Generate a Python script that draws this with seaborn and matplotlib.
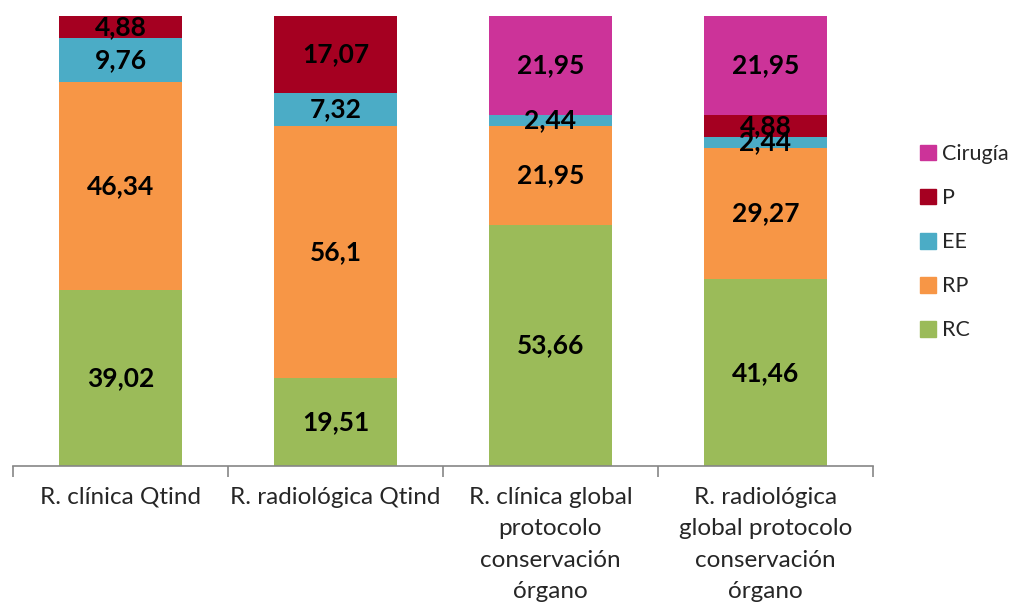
import matplotlib
matplotlib.use("Agg")
import matplotlib.pyplot as plt
import seaborn as sns
import numpy as np
import pandas as pd
from matplotlib.patches import Patch

# data
categories = ["R. clínica Qtind", "R. radiológica Qtind",
              "R. clínica global\nprotocolo\nconservación\nórgano",
              "R. radiológica\nglobal protocolo\nconservación\nórgano"]
series = ["RC", "RP", "EE", "P", "Cirugía"]
rc = [39.02, 19.51, 53.66, 41.46]
rp = [46.34, 56.1, 21.95, 29.27]
ee = [9.76, 7.32, 2.44, 2.44]
p = [4.88, 17.07, 0, 4.88]
cirugia = [0, 0, 21.95, 21.95]
colors = ["#9BBB59", "#F79646", "#4BACC6", "#A50021", "#CC3399"]

sns.set_theme(style="white")
plt.rcParams['font.family'] = ['Lato', 'DejaVu Sans']

values = np.array([rc, rp, ee, p, cirugia])
cum = values.cumsum(axis=0)

fig = plt.figure(figsize=(10.15, 6.1), dpi=100)
ax = fig.add_axes([13 / 1015, 144 / 610, 860 / 1015, 450 / 610])

# stacked bars: draw cumulative totals from top down
for i in range(len(series) - 1, -1, -1):
    df = pd.DataFrame({"cat": categories, "val": cum[i]})
    sns.barplot(data=df, x="cat", y="val", color=colors[i], width=0.57,
                saturation=1, ax=ax, edgecolor="none")

# labels in the middle of each segment
for i in range(len(series)):
    for j in range(len(categories)):
        v = values[i, j]
        if v <= 0:
            continue
        y = cum[i, j] - v / 2
        ax.text(j, y, f"{v:g}".replace(".", ","), ha="center", va="center",
                fontsize=19, fontweight="bold", color="black")

ax.set_ylim(0, 100)
ax.set_xlim(-0.5, 3.5)
ax.set_xlabel("")
ax.set_ylabel("")
ax.set_yticks([])
for s in ["top", "left", "right"]:
    ax.spines[s].set_visible(False)
ax.spines["bottom"].set_color("#868686")
ax.spines["bottom"].set_linewidth(1.2)

ax.set_xticks(range(len(categories)))
ax.set_xticklabels(categories, fontsize=17.5, linespacing=1.62)
ax.tick_params(axis="x", which="major", length=0, pad=15)
ax.set_xticks(np.arange(-0.5, 4, 1), minor=True)
ax.tick_params(axis="x", which="minor", length=8, width=1.2, color="#868686",
               direction="out", bottom=True)

handles = [Patch(color=colors[i], label=series[i]) for i in range(len(series) - 1, -1, -1)]
fig.legend(handles=handles, loc="center left", bbox_to_anchor=(0.887, 0.603),
           frameon=False, fontsize=15.5, handlelength=0.75, handleheight=0.75,
           labelspacing=1.12, handletextpad=0.3)

fig.savefig("out.png", dpi=100)
